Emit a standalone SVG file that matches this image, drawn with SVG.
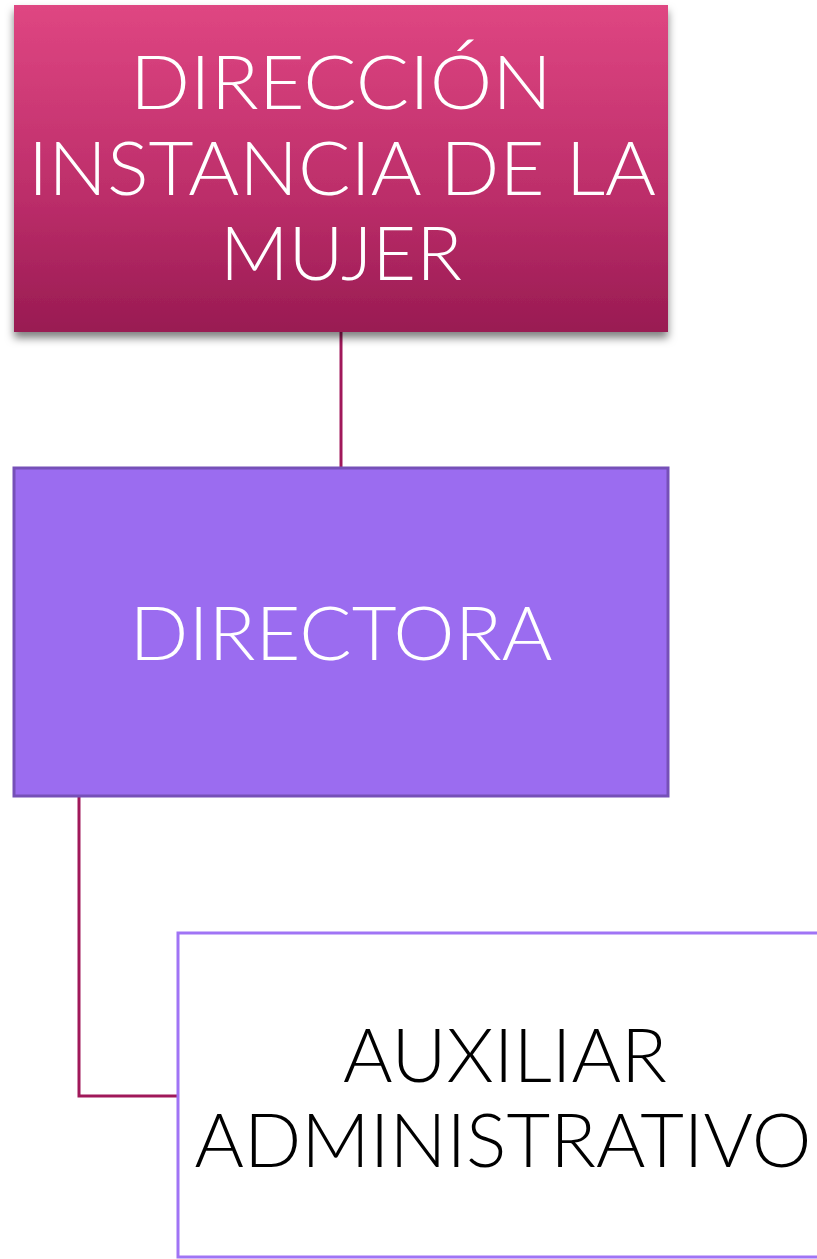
<svg xmlns="http://www.w3.org/2000/svg" width="817" height="1259" viewBox="0 0 817 1259">
<style>
.t{font-family:Lato,"Open Sans","Liberation Sans",sans-serif;font-weight:300;font-size:75px;text-anchor:middle}
.w{fill:#ffffff}
.k{fill:#000000}
.conn{fill:none;stroke:#a0185a;stroke-width:3}
</style>
<defs>
<linearGradient id="g1" x1="0" y1="0" x2="0" y2="1">
<stop offset="0" stop-color="#df4682"/>
<stop offset="0.6" stop-color="#bb2d69"/>
<stop offset="1" stop-color="#991b52"/>
</linearGradient>
<filter id="sh" x="-10%" y="-10%" width="120%" height="130%">
<feDropShadow dx="0" dy="6" stdDeviation="4" flood-color="#000" flood-opacity="0.5"/>
</filter>
</defs>
<g id="connectors">
<line class="conn" x1="341" y1="332" x2="341" y2="468"/>
<polyline class="conn" points="79,796 79,1096 178,1096"/>
</g>
<g id="node-direccion">
<rect x="14" y="5" width="654" height="327" fill="url(#g1)" filter="url(#sh)"/>
<text class="t w" x="341" y="109" textLength="422" lengthAdjust="spacingAndGlyphs">DIRECCIÓN</text>
<text class="t w" x="342" y="195" textLength="628" lengthAdjust="spacingAndGlyphs">INSTANCIA DE LA</text>
<text class="t w" x="341" y="280" textLength="242" lengthAdjust="spacingAndGlyphs">MUJER</text>
</g>
<g id="node-directora">
<rect x="14" y="468" width="654" height="328" fill="#9b6cf0" stroke="#7650b8" stroke-width="3"/>
<text class="t w" x="341" y="660" textLength="423" lengthAdjust="spacingAndGlyphs">DIRECTORA</text>
</g>
<g id="node-auxiliar">
<rect x="178" y="933" width="660" height="324" fill="#ffffff" stroke="#a074f5" stroke-width="3"/>
<text class="t k" x="505" y="1082" textLength="324" lengthAdjust="spacingAndGlyphs">AUXILIAR</text>
<text class="t k" x="503" y="1167" textLength="617" lengthAdjust="spacingAndGlyphs">ADMINISTRATIVO</text>
</g>
</svg>
